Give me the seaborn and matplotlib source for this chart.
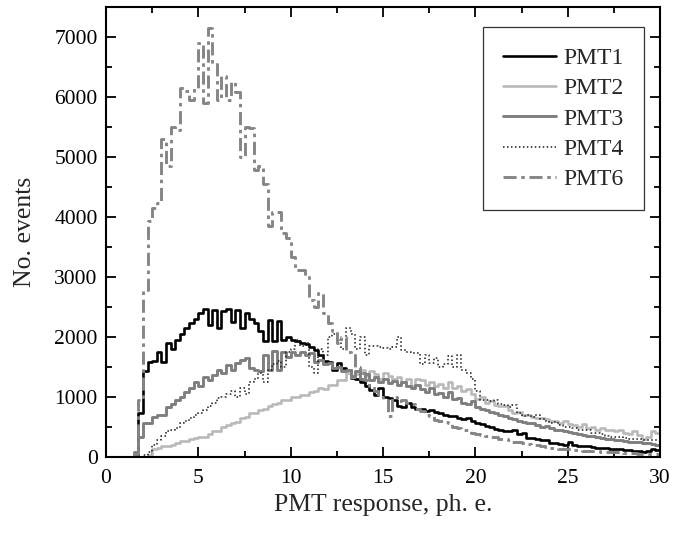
import numpy as np
import pandas as pd
import matplotlib
matplotlib.use("Agg")
import matplotlib.pyplot as plt
import seaborn as sns
from matplotlib.ticker import MultipleLocator

# ---- data: counts per 0.25 ph.e. bin, bins from 0 to 30 ----
bin_width = 0.25
x_min, x_max = 0.0, 30.0

pmt1 = [0, 0, 0, 0, 0, 0, 20, 720, 1420, 1580,
        1600, 1750, 1580, 1890, 1800, 1950, 2050, 2140, 2220, 2300,
        2400, 2460, 2200, 2450, 2150, 2420, 2460, 2250, 2450, 2150,
        2400, 2300, 2220, 2100, 1920, 2280, 1920, 2260, 1950, 2000,
        1940, 1920, 1890, 1870, 1830, 1780, 1700, 1600, 1580, 1450,
        1560, 1480, 1440, 1310, 1300, 1250, 1170, 1110, 1030, 1140,
        1000, 980, 950, 840, 830, 890, 830, 800, 790, 760,
        770, 740, 720, 700, 680, 670, 640, 620, 640, 600,
        560, 540, 510, 500, 460, 440, 430, 420, 440, 370,
        390, 310, 310, 300, 280, 280, 230, 220, 210, 200,
        250, 190, 180, 170, 170, 160, 150, 140, 140, 130,
        120, 120, 110, 110, 100, 100, 80, 90, 130, 110]

pmt2 = [0, 0, 0, 0, 0, 0, 0, 0, 0, 30,
        120, 150, 170, 180, 200, 220, 260, 260, 300, 310,
        330, 330, 380, 420, 430, 500, 520, 560, 580, 640,
        660, 720, 730, 780, 800, 850, 880, 900, 950, 940,
        1000, 990, 1030, 1020, 1080, 1100, 1140, 1130, 1200, 1190,
        1270, 1280, 1400, 1330, 1380, 1450, 1350, 1420, 1380, 1300,
        1400, 1350, 1300, 1320, 1250, 1300, 1180, 1300, 1270, 1200,
        1250, 1180, 1210, 1150, 1250, 1140, 1180, 1100, 1120, 1050,
        960, 1000, 900, 920, 860, 850, 840, 770, 720, 740,
        690, 690, 660, 650, 640, 620, 600, 590, 560, 600,
        540, 530, 500, 550, 480, 500, 450, 470, 450, 440,
        420, 440, 400, 380, 420, 360, 300, 330, 420, 390]

pmt3 = [0, 0, 0, 0, 0, 0, 80, 330, 560, 560,
        660, 700, 700, 820, 870, 950, 1000, 1080, 1140, 1250,
        1170, 1330, 1280, 1360, 1440, 1400, 1520, 1450, 1560, 1610,
        1650, 1480, 1450, 1430, 1700, 1440, 1760, 1450, 1750, 1660,
        1740, 1700, 1750, 1690, 1720, 1580, 1610, 1540, 1560, 1470,
        1500, 1420, 1450, 1350, 1420, 1300, 1380, 1280, 1330, 1250,
        1300, 1220, 1260, 1200, 1250, 1170, 1150, 1200, 1120, 1080,
        1150, 1050, 1060, 1000, 1070, 960, 980, 900, 880, 920,
        820, 800, 780, 740, 720, 700, 680, 640, 620, 600,
        580, 560, 560, 520, 500, 510, 470, 450, 440, 420,
        410, 390, 380, 360, 350, 340, 320, 310, 300, 290,
        280, 270, 260, 250, 240, 240, 230, 220, 210, 200]

pmt4 = [0, 0, 0, 0, 0, 0, 0, 0, 20, 80,
        200, 280, 350, 420, 450, 480, 560, 600, 650, 700,
        730, 780, 850, 900, 980, 1000, 1050, 1100, 1000, 1150,
        1050, 1250, 1300, 1400, 1250, 1450, 1550, 1600, 1500, 1750,
        1800, 1950, 1850, 1900, 1500, 1400, 1800, 1700, 1990, 2050,
        1950, 1800, 2150, 2050, 1800, 2000, 1700, 1850, 1850, 1820,
        1810, 1800, 1830, 2000, 1780, 1750, 1720, 1720, 1550, 1700,
        1560, 1650, 1500, 1550, 1680, 1500, 1700, 1450, 1400, 1300,
        1100, 950, 950, 930, 950, 880, 860, 830, 860, 720,
        680, 700, 660, 690, 620, 600, 560, 570, 520, 500,
        500, 470, 450, 440, 440, 400, 390, 380, 350, 330,
        320, 330, 310, 300, 300, 290, 280, 280, 270, 270]

pmt6 = [0, 0, 0, 0, 0, 0, 40, 950, 2780, 3920,
        4150, 4220, 5300, 4850, 5500, 5450, 6150, 6100, 5950, 6150,
        6900, 5900, 7150, 6550, 5950, 6350, 5950, 6250, 6080, 5000,
        5500, 5480, 4780, 4850, 4550, 3850, 4080, 4080, 3720, 3650,
        3330, 3110, 3110, 3000, 2610, 2500, 2720, 2400, 2220, 2100,
        1890, 1990, 1750, 1700, 1500, 1400, 1280, 1170, 1100, 1000,
        950, 670, 1000, 920, 950, 900, 880, 800, 760, 700,
        670, 610, 600, 580, 560, 500, 480, 450, 440, 400,
        380, 360, 350, 330, 320, 300, 290, 270, 250, 240,
        230, 210, 200, 190, 170, 160, 150, 140, 130, 130,
        120, 110, 110, 100, 100, 90, 90, 80, 80, 70,
        70, 70, 60, 60, 60, 50, 50, 50, 50, 40]

labels = ["PMT1", "PMT2", "PMT3", "PMT4", "PMT6"]
x_ticks = [0, 5, 10, 15, 20, 25, 30]
y_ticks = [0, 1000, 2000, 3000, 4000, 5000, 6000, 7000]

# ---- build tidy table ----
edges = np.arange(x_min, x_max + bin_width / 2, bin_width)
centers = edges[:-1] + bin_width / 2
series = [pmt1, pmt2, pmt3, pmt4, pmt6]
df = pd.concat([pd.DataFrame({"x": centers, "count": s, "pmt": lab})
                for s, lab in zip(series, labels)], ignore_index=True)

styles = {
    "PMT1": dict(color="#000000", linestyle="-", linewidth=1.9),
    "PMT2": dict(color="#b9b9b9", linestyle="-", linewidth=1.9),
    "PMT3": dict(color="#7f7f7f", linestyle="-", linewidth=2.1),
    "PMT4": dict(color="#1a1a1a", linestyle=(0, (1, 1.6)), linewidth=1.1),
    "PMT6": dict(color="#858585", linestyle=(0, (4.5, 1.6, 1.2, 1.6)), linewidth=2.1),
}

sns.set_style("ticks")
plt.rcParams["font.family"] = ["Liberation Serif", "DejaVu Serif"]
plt.rcParams["mathtext.fontset"] = "stix"

fig = plt.figure(figsize=(6.73, 5.39), dpi=100)
ax = fig.add_axes([0.1575, 0.1527, 0.8232, 0.8349])

for lab in labels:
    sub = df[df["pmt"] == lab]
    sns.histplot(data=sub, x="x", weights="count", bins=edges.tolist(),
                 element="step", fill=False, ax=ax, label=lab, **styles[lab])

ax.set_xlim(x_min, x_max)
ax.set_ylim(0, 7500)
ax.set_xticks(x_ticks)
ax.set_yticks(y_ticks)
ax.xaxis.set_minor_locator(MultipleLocator(2.5))
ax.yaxis.set_minor_locator(MultipleLocator(500))
ax.tick_params(which="both", direction="in", top=True, right=True,
               width=1.3, colors="black", labelsize=15.5)
ax.tick_params(which="major", length=7)
ax.tick_params(which="minor", length=4)
ax.tick_params(axis="y", pad=6)
ax.tick_params(axis="x", pad=9)
for sp in ax.spines.values():
    sp.set_linewidth(1.5)
    sp.set_color("black")

ax.set_xlabel("PMT response, ph. e.", fontsize=18.5, labelpad=4)
ax.set_ylabel("No. events", fontsize=18.5, labelpad=13)

leg = ax.legend(loc="upper right", bbox_to_anchor=(0.971, 0.954),
                borderaxespad=0, fontsize=17, frameon=True, fancybox=False,
                edgecolor="black", handlelength=2.25, handletextpad=0.3,
                labelspacing=0.37, borderpad=0.85)
leg.get_frame().set_linewidth(0.9)

fig.savefig("out.png", dpi=100)
